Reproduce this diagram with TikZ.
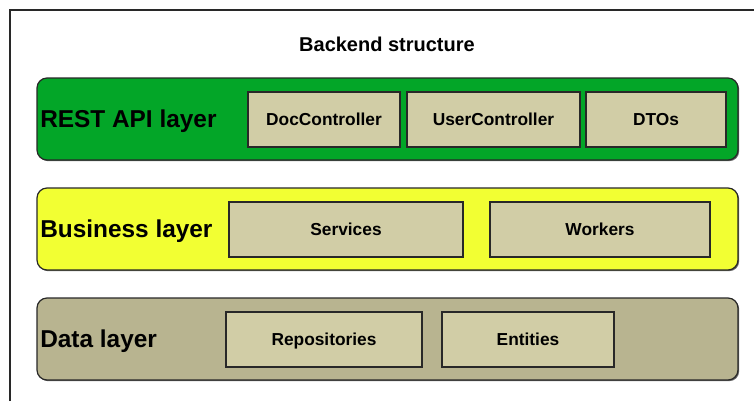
\documentclass[tikz,border=0pt]{standalone}
\usepackage{fontspec}
\setmainfont{Liberation Sans}
\usetikzlibrary{shadows}
\definecolor{restgreen}{RGB}{3,166,40}
\definecolor{bizyellow}{RGB}{242,255,51}
\definecolor{dataolive}{RGB}{184,180,144}
\definecolor{compfill}{RGB}{209,205,166}
\definecolor{edgegray}{RGB}{40,40,40}
\tikzset{
  layer/.style={draw=edgegray, line width=0.9pt, rounded corners=7.5pt,
    drop shadow={shadow xshift=0.9pt, shadow yshift=-0.9pt, opacity=0.6, fill=black}},
  comp/.style={draw=edgegray, line width=0.9pt, fill=compfill, inner sep=0pt,
    text height=9.3pt, text depth=0pt,
    font=\fontsize{13}{15}\selectfont\bfseries},
  layerlabel/.style={anchor=west, inner sep=0pt, text height=13.1pt, text depth=0pt,
    font=\fontsize{18.3}{20}\selectfont\bfseries},
}
\begin{document}
\begin{tikzpicture}[x=0.75pt, y=-0.75pt]
  \useasboundingbox (0,0) rectangle (754,401);
  % outer frame
  \draw[draw=edgegray, line width=0.9pt] (10,401) -- (10,10) -- (754,10);
  % title
  \node[font=\fontsize{15}{17}\selectfont\bfseries, inner sep=0pt,
        text height=10.8pt, text depth=0pt] (title) at (387,44) {Backend structure};

  % REST API layer
  \path[layer, fill=restgreen] (37,78) rectangle (738,160);
  \node[layerlabel] (restlbl) at (40,119) {REST API layer};
  \node[comp, minimum width=152*0.75pt, minimum height=55*0.75pt] (doc) at (324,119.5) {DocController};
  \node[comp, minimum width=173*0.75pt, minimum height=55*0.75pt] (user) at (493.5,119.5) {UserController};
  \node[comp, minimum width=140*0.75pt, minimum height=55*0.75pt] (dto) at (656,119.5) {DTOs};

  % Business layer
  \path[layer, fill=bizyellow] (37,188) rectangle (738,270);
  \node[layerlabel] (bizlbl) at (40,229) {Business layer};
  \node[comp, minimum width=234*0.75pt, minimum height=55*0.75pt] (svc) at (346,229.5) {Services};
  \node[comp, minimum width=220*0.75pt, minimum height=55*0.75pt] (wrk) at (600,229.5) {Workers};

  % Data layer
  \path[layer, fill=dataolive] (37,298) rectangle (738,380);
  \node[layerlabel] (datalbl) at (40,339) {Data layer};
  \node[comp, minimum width=196*0.75pt, minimum height=55*0.75pt] (repo) at (324,339.5) {Repositories};
  \node[comp, minimum width=172*0.75pt, minimum height=55*0.75pt] (ent) at (528,339.5) {Entities};
\end{tikzpicture}
\end{document}
